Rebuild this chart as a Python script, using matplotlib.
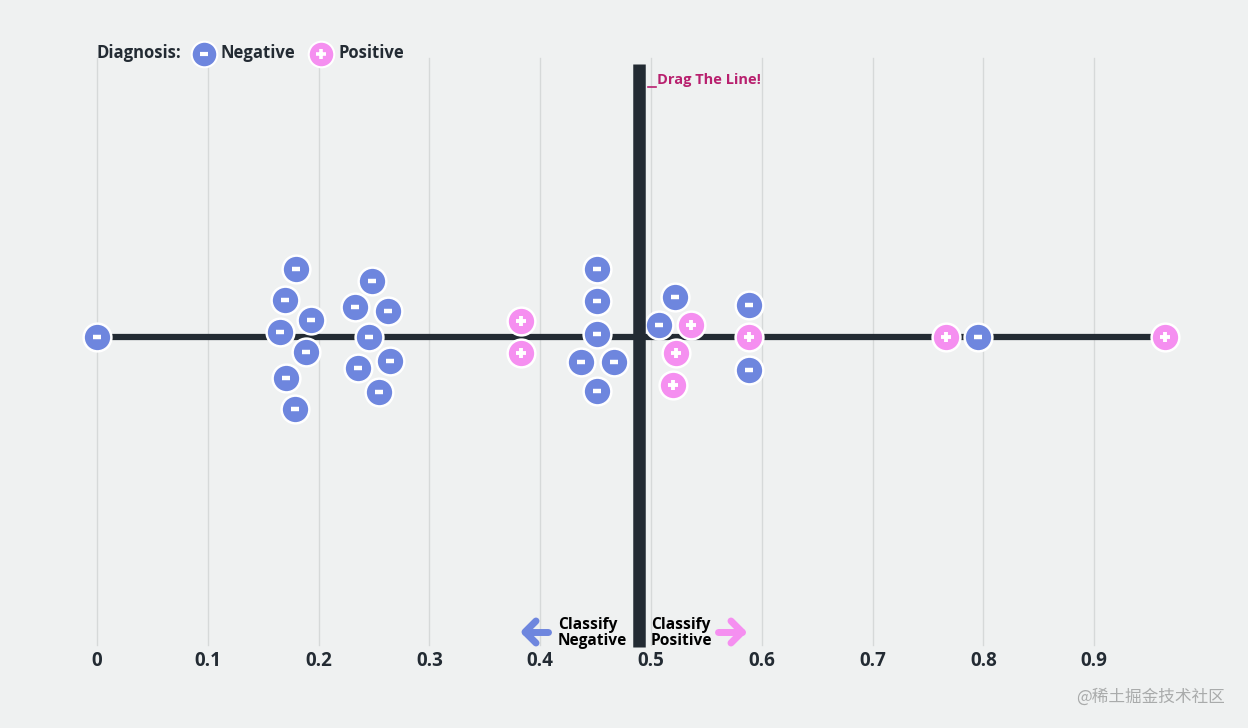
import matplotlib
matplotlib.use("Agg")
import matplotlib.pyplot as plt
import numpy as np

# ---- data ----
neg_x = [0.0, 0.1796, 0.1697, 0.1931, 0.1652, 0.1886, 0.1706, 0.1787,
         0.2482, 0.2329, 0.2626, 0.2455, 0.2644, 0.2356, 0.2545,
         0.4513, 0.4513, 0.4513, 0.4368, 0.4666, 0.4513,
         0.5217, 0.5072, 0.5884, 0.5884, 0.7951]
neg_off = [0, 68, 37, 17, 5, -15, -41, -72,
           56, 30, 26, 0, -24, -31, -55,
           68, 36, 3, -25, -25, -54,
           40, 12, 32, -33, 0]
pos_x = [0.3827, 0.3827, 0.5361, 0.5226, 0.5199, 0.5884, 0.7662, 0.9639]
pos_off = [16, -16, 12, -16, -48, 0, 0, 0]
ticks = [0, 0.1, 0.2, 0.3, 0.4, 0.5, 0.6, 0.7, 0.8, 0.9]
tick_labels = ["0", "0.1", "0.2", "0.3", "0.4", "0.5", "0.6", "0.7", "0.8", "0.9"]
threshold = 0.489

BG = "#eff1f1"
NEG = "#6e86de"
POS = "#f58ff0"
DARK = "#232b33"
GRID = "#d6d9d9"
FONT = ["Open Sans", "DejaVu Sans"]
W = "bold"

fig = plt.figure(figsize=(12.48, 7.28), dpi=100, facecolor=BG)
ax = fig.add_axes([0, 0, 1, 1])
ax.set_facecolor(BG)
ax.set_xlim(-97 / 1108, (1248 - 97) / 1108)
ax.set_ylim(-(728 - 337), 337)
ax.axis("off")

# grid lines
for t, lab in zip(ticks, tick_labels):
    ax.plot([t, t], [-308, 279], color=GRID, lw=1, zorder=0)
    ax.text(t, -324, lab, ha="center", va="center",
            fontsize=13.5, fontweight=W, color=DARK, family=FONT)

# baseline
allx = neg_x + pos_x
ax.plot([min(allx), max(allx)], [0, 0], color=DARK, lw=4.5, zorder=1,
        solid_capstyle="butt")

# decision line
ax.plot([threshold, threshold], [273, -310], color=DARK, lw=9, zorder=5,
        solid_capstyle="butt")

# markers
ms = 400
ax.scatter(neg_x, neg_off, s=ms, color=NEG, edgecolor="white", linewidth=1.8, zorder=3)
ax.scatter(neg_x, neg_off, s=36, marker="_", color="white", linewidth=3.2, zorder=4)
ax.scatter(pos_x, pos_off, s=ms, color=POS, edgecolor="white", linewidth=1.8, zorder=3)
ax.scatter(pos_x, pos_off, s=60, marker="+", color="white", linewidth=2.8, zorder=4)

# legend
def px2x(p):
    return (p - 97) / 1108

def py2y(p):
    return 337 - p

ax.text(px2x(97), py2y(53), "Diagnosis:", ha="left", va="center", fontsize=12,
        fontweight=W, color=DARK, family=FONT)
ax.scatter([px2x(204)], [py2y(54)], s=340, color=NEG, edgecolor="white", linewidth=1.5, zorder=3)
ax.scatter([px2x(204)], [py2y(54)], s=30, marker="_", color="white", linewidth=3, zorder=4)
ax.text(px2x(221), py2y(53), "Negative", ha="left", va="center", fontsize=12,
        fontweight=W, color=DARK, family=FONT)
ax.scatter([px2x(321)], [py2y(54)], s=340, color=POS, edgecolor="white", linewidth=1.5, zorder=3)
ax.scatter([px2x(321)], [py2y(54)], s=50, marker="+", color="white", linewidth=2.6, zorder=4)
ax.text(px2x(338), py2y(53), "Positive", ha="left", va="center", fontsize=12,
        fontweight=W, color=DARK, family=FONT)

# drag annotation
ax.plot([px2x(648), px2x(656)], [py2y(87), py2y(87)], color="#b8206e", lw=1.2, zorder=6)
ax.text(px2x(657), py2y(80), "Drag The Line!", ha="left", va="center", fontsize=10.5,
        fontweight=W, color="#b8206e", family=FONT)

# classify labels
ax.text(px2x(558), py2y(633), "Classify\nNegative", ha="left", va="center", fontsize=11.2,
        fontweight=W, color="black", family=FONT, linespacing=1.05)
ax.text(px2x(651), py2y(633), "Classify\nPositive", ha="left", va="center", fontsize=11.2,
        fontweight=W, color="black", family=FONT, linespacing=1.05)

# arrows
ay = py2y(632)
ax.plot([px2x(548), px2x(525)], [ay, ay], color=NEG, lw=5, solid_capstyle="round")
ax.plot([px2x(536), px2x(525), px2x(536)], [ay + 11, ay, ay - 11], color=NEG, lw=5,
        solid_capstyle="round", solid_joinstyle="round")
ax.plot([px2x(718), px2x(742)], [ay, ay], color=POS, lw=5, solid_capstyle="round")
ax.plot([px2x(731), px2x(742), px2x(731)], [ay + 11, ay, ay - 11], color=POS, lw=5,
        solid_capstyle="round", solid_joinstyle="round")

# watermark
ax.text(px2x(1225), py2y(697), "@稀土掘金技术社区", ha="right", va="center", fontsize=12,
        color="#a9abab", family=["Noto Sans CJK SC", "DejaVu Sans"])

fig.savefig("out.png", dpi=100, facecolor=BG)
